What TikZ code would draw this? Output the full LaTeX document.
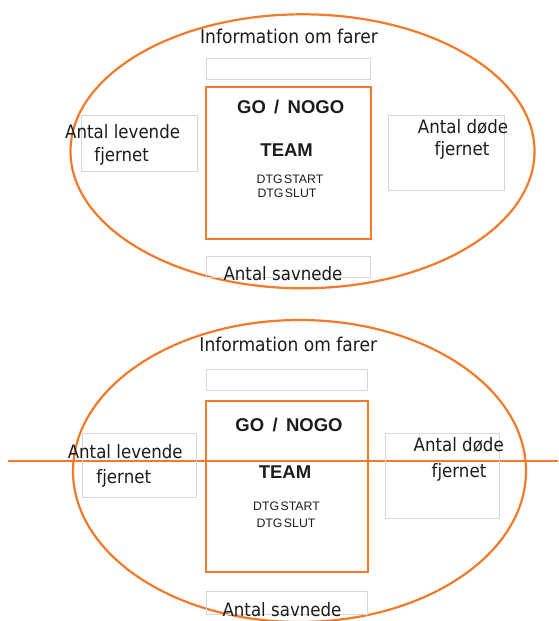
\documentclass[tikz,border=0pt]{standalone}
\usepackage{fontspec}
\setmainfont{DejaVu Sans}[FakeStretch=0.9]
\newfontfamily\heavysans{Liberation Sans}
\usetikzlibrary{shapes.geometric}
\definecolor{ringorange}{RGB}{242,122,40}
\definecolor{framegray}{RGB}{214,214,214}
\definecolor{inkdark}{RGB}{28,28,28}

\begin{document}
\begin{tikzpicture}[x=1pt,y=-1pt,
  ring/.style={ellipse, draw=ringorange, line width=2.2pt, inner sep=0pt},
  panel/.style={draw=framegray, line width=0.9pt, inner sep=0pt},
  teambox/.style={draw=ringorange, line width=2.4pt, inner sep=0pt},
  cutline/.style={draw=ringorange, line width=2.4pt},
  label/.style={text=inkdark, inner sep=0pt, font=\fontsize{18.5}{22}\selectfont},
  infolabel/.style={text=inkdark, inner sep=0pt, font=\fontsize{19}{22}\selectfont},
  headlabel/.style={text=inkdark, inner sep=0pt, font=\heavysans\bfseries\fontsize{18.5}{22}\selectfont},
  dtglabel/.style={text=inkdark, inner sep=0pt, font=\heavysans\fontsize{12.3}{14}\selectfont},
]
\useasboundingbox (0,0) rectangle (558,621);

% ---------- upper panel ----------
\node[ring, minimum width=464pt, minimum height=274pt] (ringA) at (302.5,151.3) {};
\node[panel, minimum width=164pt, minimum height=21pt] (infoboxA) at (288,68.5) {};
\node[teambox, minimum width=165pt, minimum height=152pt] (teamA) at (288.5,163) {};
\node[panel, minimum width=116pt, minimum height=56.2pt] (liveA) at (139,143.6) {};
\node[panel, minimum width=115.7pt, minimum height=75.7pt] (deadA) at (446.2,152.9) {};
\node[panel, minimum width=164pt, minimum height=21pt] (missA) at (288,267.2) {};

\node[infolabel, anchor=base] (infoA) at (289,43.3) {Information om farer};
\node[headlabel, anchor=base] (gonogoA) at (290.7,113.3) {GO\hspace{0.45em}/\hspace{0.45em}NOGO};
\node[headlabel, anchor=base] (teamtextA) at (286.7,156.6) {TEAM};
\node[dtglabel, anchor=base] (startA) at (290,183.7) {DTG\hspace{0.12em}START};
\node[dtglabel, anchor=base] (slutA) at (287,197) {DTG\hspace{0.12em}SLUT};
\node[label, anchor=base west] (livetextA) at (65,138.3) {Antal levende};
\node[label, anchor=base] (livefjA) at (121.7,161) {fjernet};
\node[label, anchor=base] (deadtextA) at (463,133.3) {Antal døde};
\node[label, anchor=base] (deadfjA) at (462,155) {fjernet};
\node[label, anchor=base] (misstextA) at (283,280) {Antal savnede};

% ---------- lower panel ----------
\node[ring, minimum width=453pt, minimum height=302pt] (ringB) at (299.5,471) {};
\coordinate (cutL) at (8,461);
\coordinate (cutR) at (558,461);
\draw[cutline] (cutL) -- (cutR);
\node[panel, minimum width=161.3pt, minimum height=21.4pt] (infoboxB) at (286.7,380) {};
\node[teambox, minimum width=162pt, minimum height=171pt] (teamB) at (287,486.2) {};
\node[panel, minimum width=114.2pt, minimum height=64pt] (liveB) at (139.7,465.3) {};
\node[panel, minimum width=113.9pt, minimum height=85pt] (deadB) at (442.4,475.8) {};
\node[panel, minimum width=161.3pt, minimum height=22.3pt] (missB) at (286.7,602.9) {};

\node[infolabel, anchor=base] (infoB) at (288.3,351.7) {Information om farer};
\node[headlabel, anchor=base] (gonogoB) at (289,431.6) {GO\hspace{0.45em}/\hspace{0.45em}NOGO};
\node[headlabel, anchor=base] (teamtextB) at (285,478.3) {TEAM};
\node[dtglabel, anchor=base] (startB) at (286.5,510.7) {DTG\hspace{0.12em}START};
\node[dtglabel, anchor=base] (slutB) at (286,527.3) {DTG\hspace{0.12em}SLUT};
\node[label, anchor=base west] (livetextB) at (67.6,458.4) {Antal levende};
\node[label, anchor=base] (livefjB) at (123.8,483) {fjernet};
\node[label, anchor=base] (deadtextB) at (458.7,451.7) {Antal døde};
\node[label, anchor=base] (deadfjB) at (459,477.5) {fjernet};
\node[label, anchor=base] (misstextB) at (282,616.8) {Antal savnede};
\end{tikzpicture}
\end{document}
